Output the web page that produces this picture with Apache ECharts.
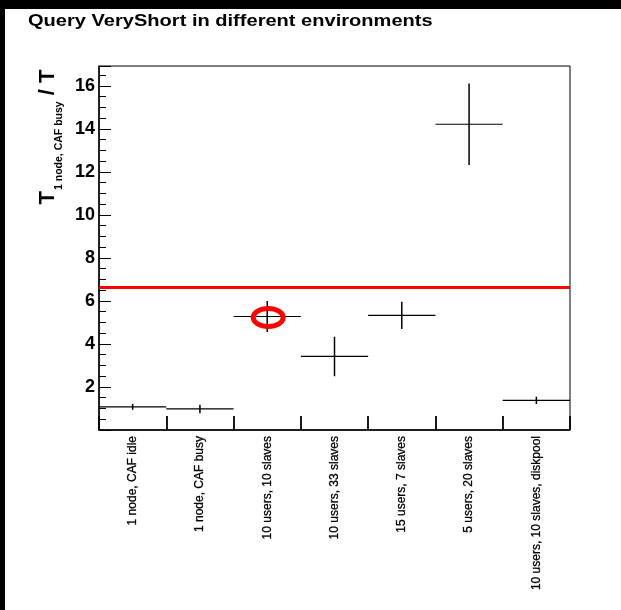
<!DOCTYPE html>
<html><head><meta charset="utf-8">
<script src="https://cdn.jsdelivr.net/npm/echarts@6/dist/echarts.min.js"></script>
<style>html,body{margin:0;padding:0;background:#fff;}#c{width:621px;height:610px;}</style>
</head><body><div id="c"></div>
<script>
const categories = ['1 node, CAF idle', '1 node, CAF busy', '10 users, 10 slaves', '10 users, 33 slaves', '15 users, 7 slaves', '5 users, 20 slaves', '10 users, 10 slaves, diskpool'];
const values = [1.08, 0.98, 5.28, 3.42, 5.33, 14.22, 1.38];
const errors = [0.14, 0.2, 0.72, 0.92, 0.63, 1.9, 0.17];
const referenceLevel = 6.65;
const highlightIndex = 2;
const titleText = 'Query VeryShort in different environments';

const chart = echarts.init(document.getElementById('c'), null, {renderer: 'canvas'});
const pointData = values.map((v, i) => [i, v, errors[i]]);
const FONT = '"Liberation Sans", Arial, sans-serif';

const option = {
  backgroundColor: '#fff',
  animation: false,
  grid: {left: 99, top: 66, width: 471, height: 364, show: true, borderColor: '#000', borderWidth: 1, backgroundColor: 'transparent'},
  xAxis: {
    type: 'category', data: categories, boundaryGap: true,
    axisLine: {show: true, lineStyle: {color: '#000', width: 1.5}},
    axisTick: {show: true, inside: true, length: 14, interval: 0, lineStyle: {color: '#000', width: 1.8}},
    axisLabel: {rotate: 90, interval: 0, margin: 6, fontSize: 12, color: '#000', fontFamily: FONT,
      textBorderColor: '#000', textBorderWidth: 0.3},
    splitLine: {show: false}
  },
  yAxis: {
    type: 'value', min: 0, max: 16.93, interval: 2,
    axisLine: {show: true, lineStyle: {color: '#000', width: 1.5}},
    axisTick: {show: true, inside: true, length: 12, lineStyle: {color: '#000', width: 1}},
    minorTick: {show: true, splitNumber: 4, length: 7, lineStyle: {color: '#000', width: 1}},
    axisLabel: {margin: 4, fontSize: 18, fontWeight: 'bold', color: '#000', fontFamily: FONT,
      formatter: v => (v > 0 && Math.abs(v % 2) < 1e-6) ? String(v) : ''},
    splitLine: {show: false}
  },
  graphic: [
    {type: 'rect', left: 0, top: 0, shape: {width: 621, height: 9}, style: {fill: '#000'}, z: 100},
    {type: 'rect', left: 0, top: 0, shape: {width: 5, height: 610}, style: {fill: '#000'}, z: 100},
    {type: 'text', x: 28, y: 21, scaleX: 1.18,
      style: {text: titleText, align: 'left', verticalAlign: 'middle', fill: '#000',
        font: 'bold 17px ' + FONT}, z: 50},
    {type: 'text', x: 46, y: 137, rotation: Math.PI / 2,
      style: {
        text: '{T|T}{s|1 node, CAF busy}{T| / T}',
        align: 'center', verticalAlign: 'middle', fill: '#000',
        rich: {
          T: {fontSize: 22, fontWeight: 'bold', fontFamily: FONT, fill: '#000', lineHeight: 26, verticalAlign: 'bottom'},
          s: {fontSize: 10.5, fontWeight: 'bold', fontFamily: FONT, fill: '#000', lineHeight: 12, verticalAlign: 'bottom', padding: [0, 0, -6, 1]}
        }
      }, z: 50}
  ],
  series: [
    {
      type: 'custom', data: pointData, clip: false,
      renderItem: (params, api) => {
        const x = api.value(0), v = api.value(1), e = api.value(2);
        const c = api.coord([x, v]);
        const lo = api.coord([x, v - e]);
        const hi = api.coord([x, v + e]);
        const w = api.size([1, 0])[0];
        return {type: 'group', children: [
          {type: 'line', shape: {x1: c[0] - w / 2, y1: c[1], x2: c[0] + w / 2, y2: c[1]}, style: {stroke: '#000', lineWidth: 1.2}},
          {type: 'line', shape: {x1: c[0], y1: hi[1], x2: c[0], y2: lo[1]}, style: {stroke: '#000', lineWidth: 1.5}}
        ]};
      },
      markLine: {
        silent: true, symbol: ['none', 'none'], label: {show: false},
        lineStyle: {color: '#ff0000', width: 3, type: 'solid'},
        data: [{yAxis: referenceLevel}]
      },
      z: 3
    },
    {
      type: 'custom', data: [[highlightIndex, values[highlightIndex]]], clip: false,
      renderItem: (params, api) => {
        const c = api.coord([api.value(0), api.value(1)]);
        return {type: 'ellipse', shape: {cx: c[0] + 1, cy: c[1] + 1, rx: 15, ry: 9}, style: {fill: null, stroke: '#ff0000', lineWidth: 5}};
      },
      z: 4
    }
  ]
};
chart.setOption(option);
</script>
</body></html>
